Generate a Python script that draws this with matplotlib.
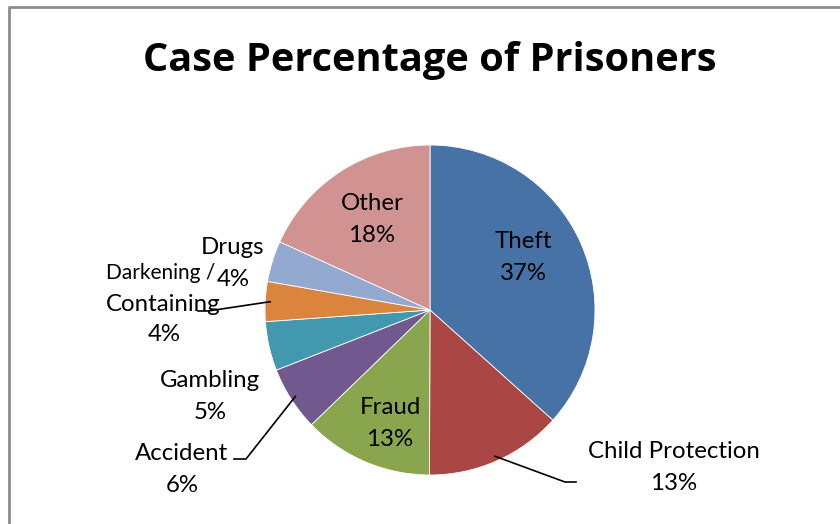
import numpy as np
import matplotlib.pyplot as plt

plt.rcParams['font.family'] = ['Lato', 'DejaVu Sans']

# Case shares (%), clockwise from 12 o'clock
categories = ["Theft", "Child Protection", "Fraud", "Accident", "Gambling",
              "Darkening / Containing", "Drugs", "Other"]
values = [36.6, 13.4, 12.7, 6.3, 4.8, 3.9, 4.0, 18.2]
colors = ["#4672A6", "#AA4643", "#89A54E", "#71588F", "#4198AF",
          "#DB843D", "#93A9CF", "#D19392"]

W, H = 840, 524
fig = plt.figure(figsize=(W / 100, H / 100), dpi=100)
ax = fig.add_axes([0, 0, 1, 1])

cx, cy, r = 430, H - 310, 165
wedges, _ = ax.pie(values, colors=colors, startangle=90, counterclock=False,
                   center=(cx, cy), radius=r,
                   wedgeprops=dict(edgecolor="white", linewidth=0.6))

ax.set_xlim(0, W)
ax.set_ylim(0, H)
ax.set_aspect("equal")
ax.axis("off")

# frame of the chart area (right / bottom run off the picture)
ax.plot([9, 9, W], [0, H - 7, H - 7], color="#8c8c8c", lw=2, solid_capstyle="butt")

ax.text(430, H - 71, "Case Percentage of Prisoners", ha="center", va="baseline",
        fontsize=28.6, fontweight="bold", family=["Open Sans", "DejaVu Sans"])

# label layout: x centre, baseline of name line (pixels from top)
label_pos = {
    "Theft": (523, 248),
    "Child Protection": (674, 458),
    "Fraud": (390, 414),
    "Accident": (182, 460),
    "Gambling": (210, 387),
    "Darkening / Containing": (163, 311),
    "Drugs": (233, 254),
    "Other": (372, 210),
}
fs = 17.3
gap = 32
for name, v in zip(categories, values):
    x, y = label_pos[name]
    pct = f"{v:.0f}%"
    if name == "Darkening / Containing":
        ax.text(x - 2, H - 279, "Darkening /", ha="center", va="baseline", fontsize=15)
        ax.text(x, H - y, "Containing", ha="center", va="baseline", fontsize=fs)
        ax.text(x + 1, H - y - 30, pct, ha="center", va="baseline", fontsize=fs)
    else:
        ax.text(x, H - y, name, ha="center", va="baseline", fontsize=fs)
        ax.text(x, H - y - gap, pct, ha="center", va="baseline", fontsize=fs)

# leader lines: start on the wedge, then elbow to the label
def wedge_point(i, frac):
    w = wedges[i]
    a = np.deg2rad((w.theta1 + w.theta2) / 2)
    return cx + frac * r * np.cos(a), cy + frac * r * np.sin(a)

leaders = {
    1: [(565, 482), (576, 482)],
    3: [(246, 459), (234, 459)],
    5: [(208, 311), (198, 311)],
}
for i, pts in leaders.items():
    sx, sy = wedge_point(i, 0.97)
    xs = [sx] + [p[0] for p in pts]
    ys = [sy] + [H - p[1] for p in pts]
    ax.plot(xs, ys, color="black", lw=1.2)

fig.savefig("out.png", dpi=100)
